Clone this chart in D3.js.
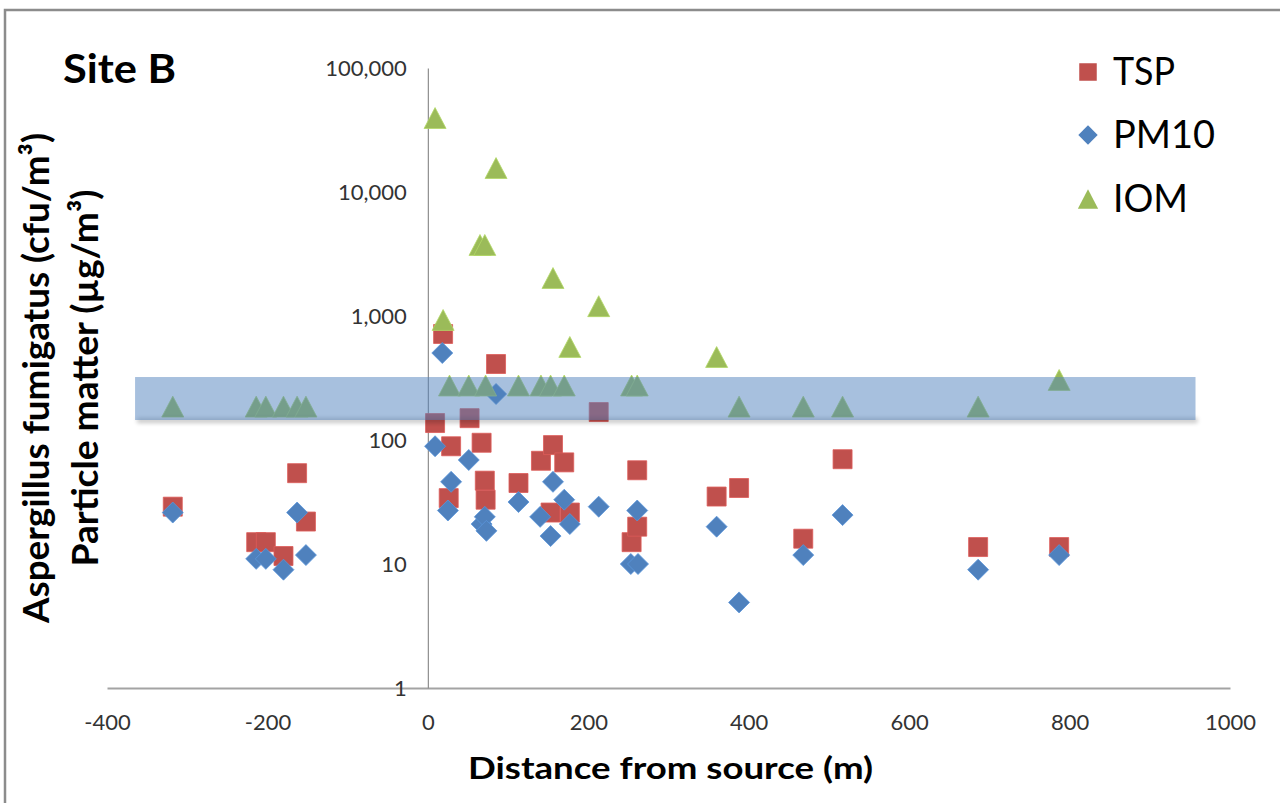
<!DOCTYPE html>
<html>
<head>
<meta charset="utf-8">
<script src="https://cdn.jsdelivr.net/npm/d3@7"></script>
<style>
  html, body { margin: 0; padding: 0; background: #fff; }
  svg { display: block; }
  text { font-family: "Lato", "Open Sans", "DejaVu Sans", sans-serif; }
</style>
</head>
<body>
<svg id="chart" width="1280" height="803"></svg>
<script>
// ---------------- data ----------------
const xTicks = [-400, -200, 0, 200, 400, 600, 800, 1000];
const yTicks = [1, 10, 100, 1000, 10000, 100000];

const tspDistance = [-318, -214, -202, -180, -163, -152, 9, 19, 26, 29, 52, 67, 71, 72, 85, 113, 141, 156, 153, 170, 177, 213, 254, 261, 261, 360, 388, 468, 517, 686, 787];
const tspValue    = [29, 15, 15, 11.6, 54, 22, 137, 716, 34, 89, 150, 95, 47, 33, 410, 45, 68, 91, 26, 66, 26, 168, 15, 57, 20, 35, 41, 16, 70, 13.7, 13.7];

const pm10Distance = [-318, -214, -202, -180, -163, -152, 9, 18, 25, 29, 51, 67, 71, 73, 85, 113, 140, 153, 156, 170, 177, 213, 253, 261, 262, 360, 388, 468, 517, 686, 787];
const pm10Value    = [26, 11, 11, 9, 26, 11.8, 89, 503, 27, 46, 69, 21, 24, 18.5, 235, 31.6, 24, 16.8, 46, 33, 21, 29, 10, 27, 10, 20, 4.9, 11.8, 24.8, 9, 11.8];

const iomDistance = [-318, -214, -202, -180, -163, -152, 9, 19, 27, 51, 65, 71, 72, 85, 113, 141, 153, 156, 170, 177, 213, 254, 261, 360, 388, 468, 517, 686, 787];
const iomValue    = [186, 186, 186, 186, 186, 186, 39500, 929, 275, 275, 3740, 3740, 275, 15600, 275, 275, 275, 2025, 275, 563, 1200, 275, 275, 467, 186, 186, 186, 186, 305];

// shaded band (data units)
const bandDistance = [-365, 957];
const bandValue = [145, 322];

const seriesNames = ["TSP", "PM10", "IOM"];
const seriesColors = ["#C0504D", "#4F81BD", "#9BBB59"];

// ---------------- drawing ----------------
const svg = d3.select("#chart");
const FONT = '"Lato", "Open Sans", "DejaVu Sans", sans-serif';

// outer chart border
svg.append("rect")
  .attr("x", 5).attr("y", 10).attr("width", 1300).attr("height", 820)
  .attr("fill", "#fff").attr("stroke", "#8c8c8c").attr("stroke-width", 2.5);

const x = d3.scaleLinear().domain([-400, 1000]).range([107, 1230]);
const y = d3.scaleLog().domain([1, 100000]).range([688, 68]);

// axes
const xAxis = d3.axisBottom(x).tickValues(xTicks).tickSize(0).tickSizeOuter(0)
  .tickFormat(d => String(d));
const gx = svg.append("g").attr("transform", `translate(0,${y(1)})`).call(xAxis);
gx.select(".domain").attr("stroke", "#a3a3a3").attr("stroke-width", 2);
gx.selectAll("text").attr("y", 42).attr("dy", 0)
  .attr("font-size", 22).attr("fill", "#333").style("font-family", FONT);

const yAxis = d3.axisLeft(y).tickValues(yTicks).tickSize(0).tickSizeOuter(0).tickPadding(21)
  .tickFormat(d3.format(","));
const gy = svg.append("g").attr("transform", `translate(${x(0)},0)`).call(yAxis);
gy.select(".domain").attr("stroke", "#8f8f8f").attr("stroke-width", 1.2);
gy.selectAll("text").attr("dy", "0.36em")
  .attr("font-size", 22).attr("fill", "#333").style("font-family", FONT);

// marker shapes
const squareType = { draw(ctx, size) { const s = Math.sqrt(size) / 2; ctx.rect(-s, -s, 2 * s, 2 * s); } };
const diamondType = { draw(ctx, size) { const r = Math.sqrt(size) / 2; ctx.moveTo(0, -r); ctx.lineTo(r, 0); ctx.lineTo(0, r); ctx.lineTo(-r, 0); ctx.closePath(); } };
const triangleType = { draw(ctx, size) { const w = Math.sqrt(size) / 2; const h = w * 0.95; ctx.moveTo(0, -h); ctx.lineTo(w, h); ctx.lineTo(-w, h); ctx.closePath(); } };

const markers = [
  { name: "TSP", xs: tspDistance, ys: tspValue, type: squareType, size: 19 * 19, color: seriesColors[0] },
  { name: "PM10", xs: pm10Distance, ys: pm10Value, type: diamondType, size: 21 * 21, color: seriesColors[1] },
  { name: "IOM", xs: iomDistance, ys: iomValue, type: triangleType, size: 22 * 22, color: seriesColors[2] }
];

markers.forEach(s => {
  const pts = s.xs.map((d, i) => ({ d, v: s.ys[i] }));
  svg.append("g").selectAll("path").data(pts).join("path")
    .attr("transform", p => `translate(${x(p.d)},${y(p.v)})`)
    .attr("d", d3.symbol().type(s.type).size(s.size))
    .attr("fill", s.color)
    .attr("stroke", d3.color(s.color).brighter(0.4))
    .attr("stroke-width", 0.8);
});

// band shadow + band (drawn on top, translucent)
const defs = svg.append("defs");
defs.append("filter").attr("id", "blur").attr("x", "-5%").attr("y", "-100%").attr("width", "110%").attr("height", "300%")
  .append("feGaussianBlur").attr("stdDeviation", 2);
const bx0 = x(bandDistance[0]), bx1 = x(bandDistance[1]);
const by0 = y(bandValue[1]), by1 = y(bandValue[0]);
svg.append("rect")
  .attr("x", bx0 + 2).attr("y", by1 - 2).attr("width", bx1 - bx0).attr("height", 5)
  .attr("fill", "#000").attr("opacity", 0.22).attr("filter", "url(#blur)");
svg.append("rect")
  .attr("x", bx0).attr("y", by0).attr("width", bx1 - bx0).attr("height", by1 - by0)
  .attr("fill", "#4F81BD").attr("opacity", 0.5);

// titles
svg.append("text").text("Site B")
  .attr("x", 63).attr("y", 83).attr("font-size", 40).attr("font-weight", "bold")
  .attr("textLength", 113).attr("lengthAdjust", "spacingAndGlyphs").attr("fill", "#000");

svg.append("text").text("Distance from source (m)")
  .attr("x", 468).attr("y", 779).attr("font-size", 31).attr("font-weight", "bold")
  .attr("textLength", 405).attr("lengthAdjust", "spacingAndGlyphs").attr("fill", "#000");

svg.append("text").text("Aspergillus fumigatus (cfu/m³)")
  .attr("transform", "translate(49,378) rotate(-90)")
  .attr("text-anchor", "middle").attr("font-size", 37).attr("font-weight", "bold")
  .attr("textLength", 490).attr("lengthAdjust", "spacingAndGlyphs").attr("fill", "#000");

svg.append("text").text("Particle matter (µg/m³)")
  .attr("transform", "translate(98,378) rotate(-90)")
  .attr("text-anchor", "middle").attr("font-size", 37).attr("font-weight", "bold")
  .attr("textLength", 377).attr("lengthAdjust", "spacingAndGlyphs").attr("fill", "#000");

// legend
const legendRows = [
  { cy: 72, base: 85, len: 62 },
  { cy: 135, base: 148, len: 102 },
  { cy: 199, base: 212, len: 75 }
];
markers.forEach((s, i) => {
  const r = legendRows[i];
  svg.append("path")
    .attr("transform", `translate(1088,${r.cy})`)
    .attr("d", d3.symbol().type(s.type).size(s.size * 0.85))
    .attr("fill", s.color);
  svg.append("text").text(seriesNames[i])
    .attr("x", 1113).attr("y", r.base).attr("font-size", 39)
    .attr("textLength", r.len).attr("lengthAdjust", "spacingAndGlyphs").attr("fill", "#000");
});
</script>
</body>
</html>
